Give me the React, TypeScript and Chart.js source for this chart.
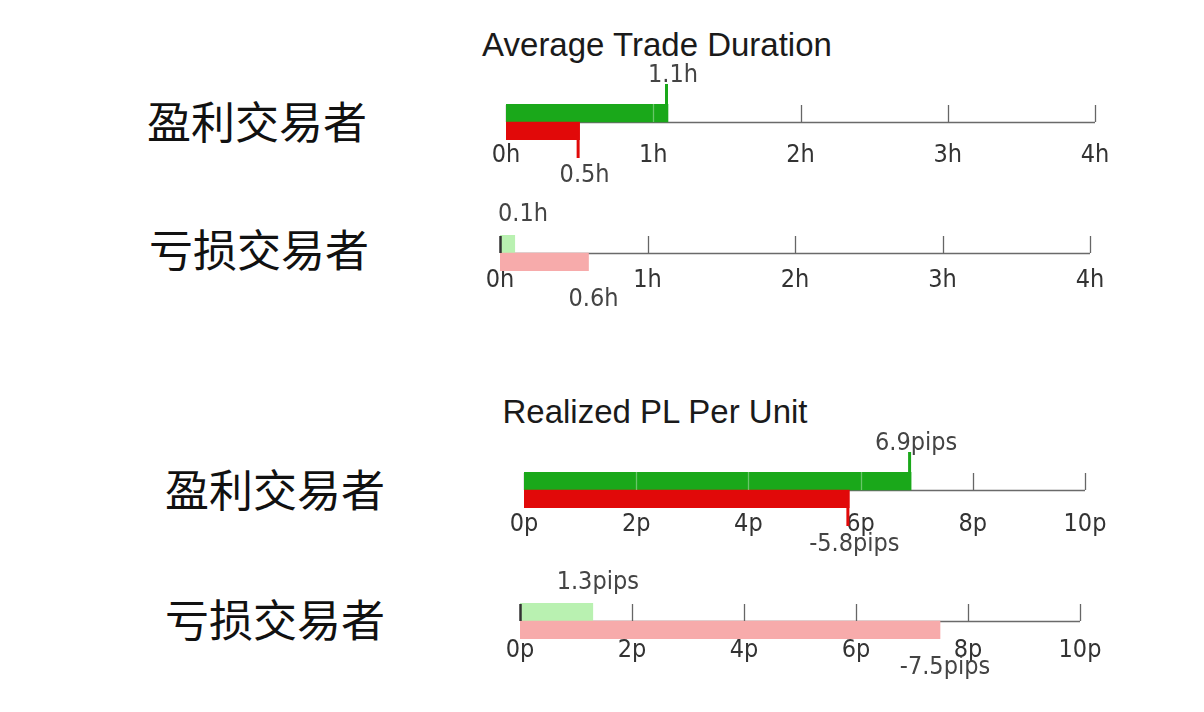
import { useEffect, useRef } from "react";
import Chart from "chart.js/auto";

// rows inside each mini chart: top = average winning trade, bottom = average losing trade
const tradeRows = ["盈利单", "亏损单"];
const traderGroups = ["盈利交易者", "亏损交易者"];

// Average Trade Duration (hours)
const durationProfitTraders = [1.1, 0.5];
const durationLossTraders = [0.1, 0.6];
const durationTickLabels = ["0h", "1h", "2h", "3h", "4h"];

// Realized PL Per Unit (pips)
const plProfitTraders = [6.9, -5.8];
const plLossTraders = [1.3, -7.5];
const plTickLabels = ["0p", "2p", "4p", "6p", "8p", "10p"];

const NARROW = '"DejaVu Sans Condensed", "Liberation Sans Narrow", sans-serif';
const DARK = ["#1aa81a", "#e10909"];
const LIGHT = ["#b9f1b1", "#f7abab"];
const PAD = 70;

type Area = { left: number; right: number; top: number; bottom: number };

type MiniProps = {
  values: number[];
  unit: string;
  tickLabels: string[];
  step: number;
  colors: string[];
  markers: boolean;
  area: Area;
  above: number;
  below: number;
  tickGap: number;
};

function fmt(v: number, unit: string) {
  return v.toFixed(1) + unit;
}

function MiniBar(props: MiniProps) {
  const canvasRef = useRef<HTMLCanvasElement>(null);
  const { area } = props;
  const width = area.right - area.left + PAD * 2;
  const height = area.bottom - area.top + PAD * 2;

  useEffect(() => {
    if (!canvasRef.current) return;
    const { values, unit, tickLabels, step, colors, markers, above, below, tickGap } = props;

    const drawTicks = (chart: any, light: boolean) => {
      const ctx = chart.ctx;
      const xs = chart.scales.x;
      const ca = chart.chartArea;
      const mid = (ca.top + ca.bottom) / 2;
      ctx.save();
      tickLabels.forEach((_, i) => {
        const x = Math.round(xs.getPixelForValue(i * step)) + 0.5;
        ctx.strokeStyle = light ? "rgba(255,255,255,0.35)" : i === 0 && !markers ? "#333" : "#666";
        ctx.lineWidth = i === 0 && !markers ? 2.5 : 1.3;
        if (light && (i === 0 || i * step >= Math.abs(values[0]))) return;
        ctx.beginPath();
        ctx.moveTo(x, mid);
        ctx.lineTo(x, ca.top + (light ? 0 : 1));
        ctx.stroke();
      });
      ctx.restore();
    };

    const overlay = {
      id: "overlay",
      beforeDatasetsDraw(chart: any) {
        const ctx = chart.ctx;
        const xs = chart.scales.x;
        const ca = chart.chartArea;
        const mid = Math.round((ca.top + ca.bottom) / 2) + 0.5;
        ctx.save();
        ctx.strokeStyle = "#6a6a6a";
        ctx.lineWidth = 1.5;
        ctx.beginPath();
        ctx.moveTo(xs.getPixelForValue(0), mid);
        ctx.lineTo(xs.getPixelForValue((tickLabels.length - 1) * step), mid);
        ctx.stroke();
        ctx.restore();
        if (markers) drawTicks(chart, false);
        // tick labels
        ctx.save();
        ctx.fillStyle = "#333";
        ctx.font = `25px ${NARROW}`;
        ctx.textAlign = "center";
        ctx.textBaseline = "middle";
        tickLabels.forEach((t, i) => {
          ctx.fillText(t, xs.getPixelForValue(i * step), ca.bottom + tickGap);
        });
        ctx.restore();
      },
      afterDatasetsDraw(chart: any) {
        const ctx = chart.ctx;
        const ca = chart.chartArea;
        if (markers) drawTicks(chart, true);
        else drawTicks(chart, false);
        const meta = chart.getDatasetMeta(0);
        ctx.save();
        ctx.font = `25px ${NARROW}`;
        ctx.textAlign = "center";
        ctx.textBaseline = "middle";
        meta.data.forEach((el: any, i: number) => {
          const top = el.y - el.height / 2;
          const bot = el.y + el.height / 2;
          if (markers) {
            ctx.strokeStyle = colors[i];
            ctx.lineWidth = 3;
            ctx.beginPath();
            if (i === 0) {
              ctx.moveTo(el.x - 1.5, top);
              ctx.lineTo(el.x - 1.5, top - 20);
            } else {
              ctx.moveTo(el.x - 1.5, bot);
              ctx.lineTo(el.x - 1.5, bot + 18);
            }
            ctx.stroke();
          }
          const text = fmt(values[i], unit);
          const w = ctx.measureText(text).width;
          let cx = el.x + 5;
          if (cx - w / 2 < ca.left - 2) cx = ca.left - 2 + w / 2;
          ctx.fillStyle = "#444";
          ctx.fillText(text, cx, i === 0 ? ca.top - above : ca.bottom + below);
        });
        ctx.restore();
      },
    };

    const chart = new Chart(canvasRef.current, {
      type: "bar",
      data: {
        labels: tradeRows,
        datasets: [
          {
            data: values.map((v) => Math.abs(v)),
            backgroundColor: colors,
            barPercentage: 1,
            categoryPercentage: 1,
            borderWidth: 0,
          },
        ],
      },
      options: {
        indexAxis: "y",
        responsive: false,
        animation: false,
        layout: { padding: PAD },
        scales: {
          x: { type: "linear", display: false, min: 0, max: (tickLabels.length - 1) * step },
          y: { display: false },
        },
        plugins: { legend: { display: false }, tooltip: { enabled: false } },
      },
      plugins: [overlay],
    });
    return () => chart.destroy();
  }, []);

  return (
    <canvas
      ref={canvasRef}
      width={width}
      height={height}
      style={{ position: "absolute", left: area.left - PAD, top: area.top - PAD, display: "block" }}
    />
  );
}

const titleStyle = (x: number, y: number): React.CSSProperties => ({
  position: "absolute",
  left: x,
  top: y,
  transform: "translate(-50%, -50%)",
  fontFamily: '"Liberation Sans", Arial, sans-serif',
  fontSize: 33,
  color: "#1a1a1a",
  whiteSpace: "nowrap",
});

const groupStyle = (x: number, y: number): React.CSSProperties => ({
  position: "absolute",
  left: x,
  top: y,
  transform: "translateY(-50%)",
  fontFamily: '"Noto Sans CJK SC", sans-serif',
  fontSize: 44,
  lineHeight: "50px",
  color: "#111",
  whiteSpace: "nowrap",
});

export default function App() {
  return (
    <div
      style={{
        position: "fixed",
        left: 0,
        top: 0,
        width: 1204,
        height: 712,
        background: "#fff",
        overflow: "hidden",
      }}
    >
      <div style={titleStyle(657, 45)}>Average Trade Duration</div>
      <div style={groupStyle(147, 120)}>{traderGroups[0]}</div>
      <div style={groupStyle(149, 248)}>{traderGroups[1]}</div>
      <MiniBar
        values={durationProfitTraders}
        unit="h"
        tickLabels={durationTickLabels}
        step={1}
        colors={DARK}
        markers
        area={{ left: 506, right: 1095, top: 104, bottom: 140 }}
        above={29}
        below={35}
        tickGap={15}
      />
      <MiniBar
        values={durationLossTraders}
        unit="h"
        tickLabels={durationTickLabels}
        step={1}
        colors={LIGHT}
        markers={false}
        area={{ left: 500, right: 1090, top: 235, bottom: 271 }}
        above={21}
        below={28}
        tickGap={9}
      />

      <div style={titleStyle(655, 412)}>Realized PL Per Unit</div>
      <div style={groupStyle(165, 488)}>{traderGroups[0]}</div>
      <div style={groupStyle(165, 618)}>{traderGroups[1]}</div>
      <MiniBar
        values={plProfitTraders}
        unit="pips"
        tickLabels={plTickLabels}
        step={2}
        colors={DARK}
        markers
        area={{ left: 524, right: 1085, top: 472, bottom: 508 }}
        above={29}
        below={36}
        tickGap={16}
      />
      <MiniBar
        values={plLossTraders}
        unit="pips"
        tickLabels={plTickLabels}
        step={2}
        colors={LIGHT}
        markers={false}
        area={{ left: 520, right: 1080, top: 603, bottom: 639 }}
        above={21}
        below={28}
        tickGap={11}
      />
    </div>
  );
}
